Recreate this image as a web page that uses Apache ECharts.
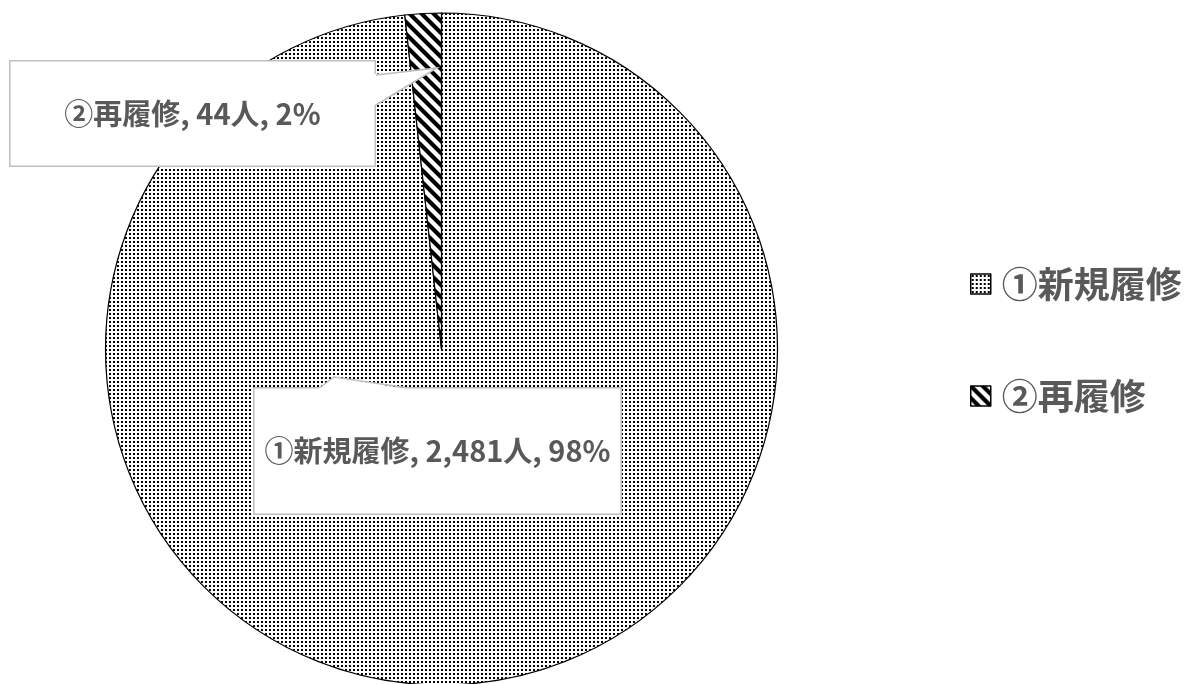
<!DOCTYPE html>
<html>
<head>
<meta charset="utf-8">
<script src="https://cdn.jsdelivr.net/npm/echarts@6/dist/echarts.min.js"></script>
<style>
html,body{margin:0;padding:0;background:#fff;}
#c{width:1187px;height:684px;}
</style>
</head>
<body>
<div id="c"></div>
<script>
const categories = ['①新規履修', '②再履修'];
const counts = [2481, 44];
const percents = [98, 2];
const units = '人';

function dotPattern() {
  const c = document.createElement('canvas');
  c.width = 4; c.height = 4;
  const g = c.getContext('2d');
  g.fillStyle = '#fff'; g.fillRect(0, 0, 4, 4);
  g.fillStyle = '#000'; g.fillRect(1, 1, 2, 2);
  return c;
}
function stripePattern() {
  const s = 12;
  const c = document.createElement('canvas');
  c.width = s; c.height = s;
  const g = c.getContext('2d');
  g.fillStyle = '#fff'; g.fillRect(0, 0, s, s);
  g.strokeStyle = '#000'; g.lineWidth = 4.2;
  g.beginPath();
  for (let k = -1; k <= 1; k++) {
    g.moveTo(k * s - 2, -2); g.lineTo(k * s + s + 2, s + 2);
  }
  g.stroke();
  return c;
}
const patterns = [dotPattern(), stripePattern()];

// label box layout (center, box size)
const labelBoxes = [
  {x: 437.5, y: 451, w: 369, h: 128},
  {x: 192.5, y: 113.5, w: 367, h: 107}
];

const chart = echarts.init(document.getElementById('c'));
chart.setOption({
  animation: false,
  backgroundColor: '#ffffff',
  legend: {
    orient: 'vertical',
    left: 965,
    top: 258,
    itemWidth: 20,
    itemHeight: 20,
    itemGap: 70,
    icon: 'rect',
    data: categories,
    itemStyle: {borderColor: '#000', borderWidth: 1.5},
    textStyle: {
      fontFamily: 'Noto Sans CJK JP',
      fontWeight: 'bold',
      fontSize: 36,
      lineHeight: 42,
      color: '#595959',
      padding: [0, 0, 0, 6]
    }
  },
  graphic: [
    {type: 'polygon', z: 100, shape: {points: [[373, 74], [437, 68], [373, 106]]}, style: {fill: '#fff', stroke: null}},
    {type: 'polyline', z: 101, shape: {points: [[376, 75], [437, 68], [376, 105]]}, style: {stroke: '#bfbfbf', lineWidth: 1.5, fill: null}},
    {type: 'polygon', z: 100, shape: {points: [[318, 389], [334, 377], [407, 389]]}, style: {fill: '#fff', stroke: null}},
    {type: 'polyline', z: 101, shape: {points: [[320, 387.5], [334, 377], [405, 387.5]]}, style: {stroke: '#bfbfbf', lineWidth: 1.5, fill: null}}
  ],
  series: [{
    type: 'pie',
    center: [441.5, 349],
    radius: 336,
    startAngle: 90,
    clockwise: true,
    silent: true,
    data: categories.map((name, i) => ({
      name: name,
      value: counts[i],
      itemStyle: {
        color: {image: patterns[i], repeat: 'repeat'},
        borderColor: '#000',
        borderWidth: 1.2
      },
      label: {width: labelBoxes[i].w - 3, lineHeight: labelBoxes[i].h - 3}
    })),
    label: {
      show: true,
      formatter: (p) => p.name + ', ' + counts[p.dataIndex].toLocaleString('en-US') + units + ', ' + percents[p.dataIndex] + '%',
      fontFamily: 'Noto Sans CJK JP',
      fontWeight: 'bold',
      fontSize: 29,
      color: '#595959',
      align: 'center',
      backgroundColor: '#ffffff',
      borderColor: '#bfbfbf',
      borderWidth: 1.5,
      padding: 0
    },
    labelLine: {show: false},
    labelLayout: (params) => {
      const b = labelBoxes[params.dataIndex];
      return {x: b.x, y: b.y, align: 'center', verticalAlign: 'middle'};
    }
  }]
});
</script>
</body>
</html>
